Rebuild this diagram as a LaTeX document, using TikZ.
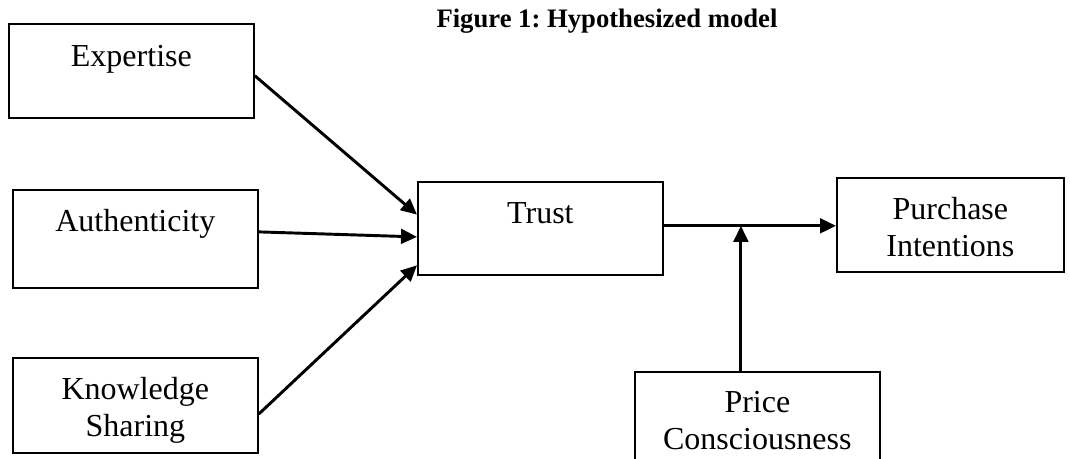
\documentclass[tikz,border=0pt]{standalone}
\usepackage{fontspec}
\setmainfont{Liberation Serif}
\usetikzlibrary{arrows.meta,calc}
\begin{document}
\begin{tikzpicture}[x=0.375pt,y=-0.375pt,
  box/.style={draw,line width=0.65pt,inner sep=0pt,anchor=north west},
  lbl/.style={font=\fontsize{12}{13.8}\selectfont,anchor=base,align=center,inner sep=0pt},
  arr/.style={line width=1.1pt,-{Triangle[length=6pt,width=5.5pt]}}]
\useasboundingbox (0,0) rectangle (1070,458);
% title
\node[font=\fontsize{10}{12}\selectfont\bfseries\frenchspacing,anchor=base,inner sep=0pt] (title) at (607,27) {Figure 1: Hypothesized model};
% boxes
\node[box,minimum width=245*0.375pt,minimum height=94*0.375pt] (exp) at (8,23) {};
\node[box,minimum width=245*0.375pt,minimum height=98*0.375pt] (auth) at (12,189) {};
\node[box,minimum width=245*0.375pt,minimum height=95*0.375pt] (ks) at (12,357) {};
\node[box,minimum width=245*0.375pt,minimum height=93*0.375pt] (trust) at (417,181) {};
\node[box,minimum width=227*0.375pt,minimum height=94*0.375pt] (pi) at (836,177) {};
\node[box,minimum width=245*0.375pt,minimum height=100*0.375pt] (price) at (634,371) {};
% labels (base anchor = last line)
\node[lbl] (expl) at ($(exp.north)+(0,43)$) {Expertise};
\node[lbl] (authl) at ($(auth.north)+(0,42)$) {Authenticity};
\node[lbl] (ksl) at ($(ks.north)+(0,79)$) {Knowledge\\Sharing};
\node[lbl] (trustl) at ($(trust.north)+(0,42)$) {Trust};
\node[lbl] (pil) at ($(pi.north)+(0,79)$) {Purchase\\Intentions};
\node[lbl] (pricel) at ($(price.north)+(0,78)$) {Price\\Consciousness};
% connectors
\draw[arr] ($(exp.north east)!0.55!(exp.south east)$) -- ($(trust.north west)!0.355!(trust.south west)$);
\draw[arr] ($(auth.north east)!0.43!(auth.south east)$) -- ($(trust.north west)!0.59!(trust.south west)$);
\draw[arr] ($(ks.north east)!0.59!(ks.south east)$) -- ($(trust.north west)!0.89!(trust.south west)$);
\coordinate (tpi) at ($(trust.north east)!0.473!(trust.south east)$);
\draw[arr] (tpi) -- (tpi -| pi.west);
\coordinate (junction) at ($(tpi)!0.448!(tpi -| pi.west)$);
\draw[arr] (junction |- price.north) -- (junction);
\end{tikzpicture}
\end{document}
